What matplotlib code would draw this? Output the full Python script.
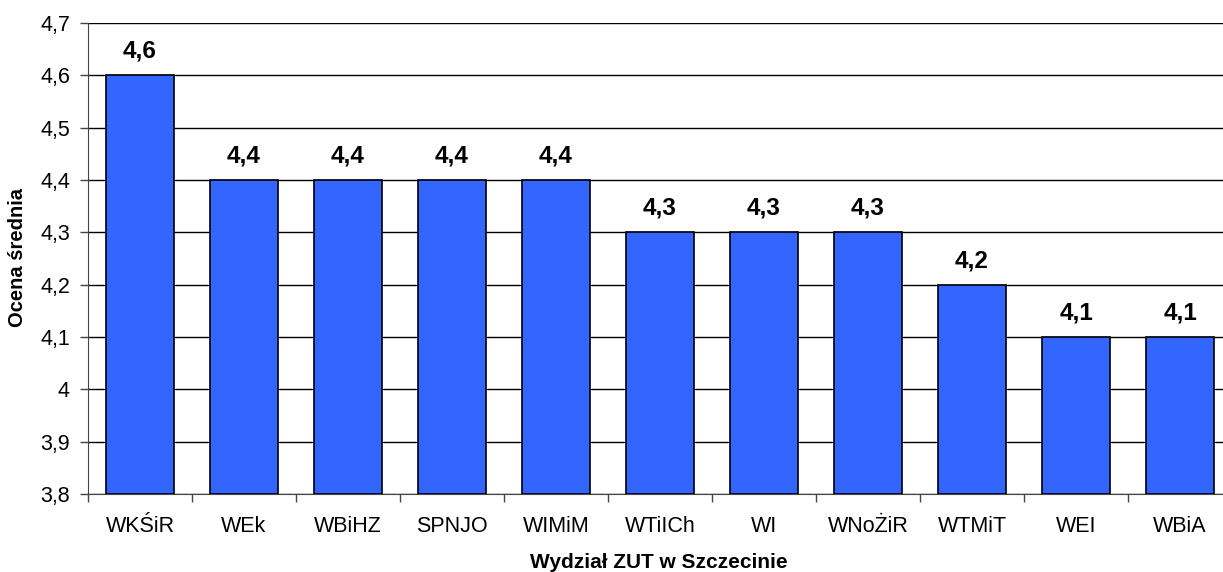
import matplotlib
matplotlib.use("Agg")
import matplotlib.pyplot as plt
import numpy as np
from matplotlib.ticker import FuncFormatter, FixedLocator

categories = ["WKŚiR", "WEk", "WBiHZ", "SPNJO", "WIMiM", "WTiICh", "WI", "WNoŻiR", "WTMiT", "WEI", "WBiA"]
values = [4.6, 4.4, 4.4, 4.4, 4.4, 4.3, 4.3, 4.3, 4.2, 4.1, 4.1]
yticks = [3.8, 3.9, 4.0, 4.1, 4.2, 4.3, 4.4, 4.5, 4.6, 4.7]

plt.rcParams['font.family'] = ['Liberation Sans', 'DejaVu Sans']

fig = plt.figure(figsize=(12.23, 5.72), dpi=100)
ax = fig.add_axes([88/1223, 78/572, 1144/1223, 471/572])

x = np.arange(len(categories))
ax.bar(x, [v - 3.8 for v in values], bottom=3.8, width=0.66, color="#3366FF",
       edgecolor="black", linewidth=1.2, zorder=3)

ax.set_ylim(3.8, 4.7)
ax.set_xlim(-0.5, len(categories) - 0.5)
ax.set_yticks(yticks)
def fmt(v, pos):
    s = ("%.1f" % v)
    if s.endswith(".0"):
        s = s[:-2]
    return s.replace(".", ",")
ax.yaxis.set_major_formatter(FuncFormatter(fmt))
ax.grid(axis="y", color="black", linewidth=1.0, zorder=0)

ax.xaxis.set_major_locator(FixedLocator(np.arange(-0.5, len(categories), 1.0)))
ax.xaxis.set_major_formatter(FuncFormatter(lambda v, p: ""))
ax.xaxis.set_minor_locator(FixedLocator(x))
ax.set_xticklabels(categories, minor=True)
ax.tick_params(axis="x", which="minor", length=0, pad=16, labelsize=15.5)
ax.tick_params(axis="x", which="major", length=6, width=1, color="#444444", direction="out")
ax.tick_params(axis="y", length=6, width=1, color="#444444", pad=7, labelsize=15.5)

for s in ["top", "right"]:
    ax.spines[s].set_visible(False)
ax.spines["left"].set_color("#444444")
ax.spines["bottom"].set_color("#444444")

for xi, v in zip(x, values):
    ax.annotate(("%.1f" % v).replace(".", ","), (xi, v), xytext=(0, 9),
                textcoords="offset points", ha="center", va="bottom",
                fontsize=17.5, fontweight="bold")

fig.text(659/1223, 1 - 562/572, "Wydział ZUT w Szczecinie", ha="center", va="center",
         fontsize=15, fontweight="bold")
fig.text(18/1223, 1 - 257/572, "Ocena średnia", ha="center", va="center", rotation=90,
         fontsize=14.5, fontweight="bold")

fig.savefig("out.png", dpi=100)
